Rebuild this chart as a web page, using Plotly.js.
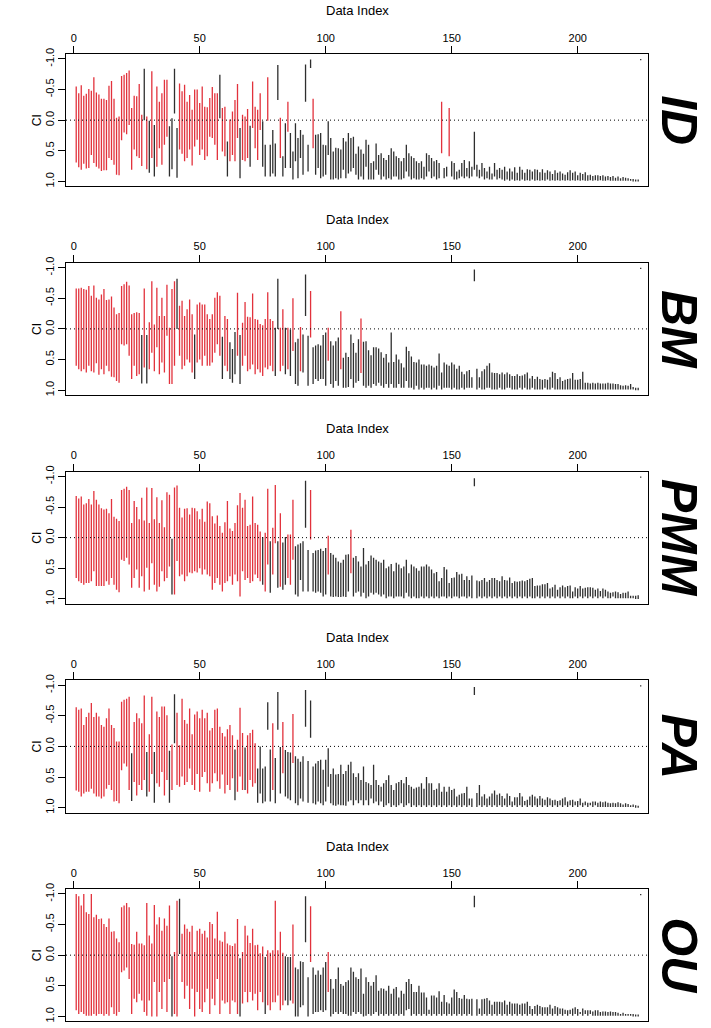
<!DOCTYPE html>
<html><head><meta charset="utf-8">
<script src="https://cdn.plot.ly/plotly-3.0.1.min.js"></script>
<style>html,body{margin:0;padding:0;background:#fff}#chart{width:711px;height:1028px}</style>
</head><body><div id="chart"></div>
<script>
const models = ["ID","BM","PMM","PA","OU"];
const xTicks = [0,50,100,150,200];
const yTicks = [-1,-0.5,0,0.5,1];
const yTickText = ["-1.0","-0.5","0.0","0.5","1.0"];
const K15 = "kkkkkkkkkkkkkkk";

const lo_ID = [
-0.55,-0.44,-0.57,-0.40,-0.43,-0.51,-0.48,-0.70,-0.45,-0.42,-0.35,-0.35,-0.33,-0.56,-0.64,
-0.35,-0.04,-0.06,-0.72,-0.74,-0.77,-0.81,-0.20,-0.40,-0.39,-0.59,-0.09,-0.84,-0.06,0.01,
-0.80,0.08,-0.55,-0.30,-0.44,-0.66,-0.66,0.10,-0.03,-0.84,0.13,-0.60,-0.47,-0.58,-0.30,
-0.41,-0.17,-0.50,-0.50,-0.28,-0.55,-0.22,-0.21,-0.36,-0.54,-0.44,-0.44,-0.74,-0.20,-0.22,
0.35,-0.01,-0.14,-0.33,-0.59,0.13,-0.09,-0.06,-0.18,0.09,-0.63,-0.22,-0.17,-0.44,0.02,
0.40,-0.70,0.40,0.16,0.38,-0.90,-0.04,0.59,0.05,-0.30,0.21,0.51,0.05,0.29,0.16,
0.24,-0.91,0.40,-0.99,-0.35,0.24,0.23,0.21,0.40,0.41,0.02,0.29,0.51,0.45,0.46,
0.48,0.29,0.35,0.21,0.29,0.27,0.55,0.43,0.48,0.55,0.32,0.40,0.70,0.67,0.38,
0.57,0.54,0.62,0.65,0.57,0.46,0.51,0.59,0.62,0.67,0.62,0.40,0.54,0.59,0.62,
0.67,0.70,0.67,0.76,0.54,0.57,0.62,0.67,0.65,0.70,-0.30,0.78,0.76,-0.20,0.67,
0.70,0.84,0.81,0.70,0.65,0.78,0.67,0.76,0.19,0.73,0.81,0.70,0.78,0.84,0.76,
0.87,0.70,0.81,0.78,0.81,0.76,0.84,0.79,0.84,0.77,0.86,0.76,0.81,0.86,0.80,
0.81,0.84,0.80,0.81,0.85,0.80,0.86,0.82,0.84,0.88,0.82,0.86,0.84,0.87,0.89,
0.85,0.82,0.86,0.84,0.90,0.86,0.88,0.85,0.90,0.89,0.91,0.90,0.90,0.91,0.90,
0.92,0.91,0.93,0.91,0.94,0.92,0.95,0.93,0.94,0.95,0.96,0.96,0.97,0.97,-1.0];
const hi_ID = [
0.69,0.77,0.81,0.71,0.79,0.78,0.57,0.70,0.76,0.79,0.83,0.82,0.82,0.62,0.65,
0.73,0.89,0.90,0.33,0.20,0.23,0.08,0.81,0.48,0.59,0.62,0.75,0.00,0.80,0.86,
0.62,0.92,0.76,0.46,0.73,0.40,0.27,0.92,0.80,-0.11,0.94,0.48,0.55,0.67,0.62,
0.48,0.74,0.43,0.32,0.57,0.48,0.65,0.59,0.27,0.29,0.40,0.65,-0.03,0.51,0.59,
0.92,0.67,0.57,0.67,0.29,0.95,0.65,0.67,0.62,0.76,0.13,0.46,0.65,0.16,0.76,
0.92,0.01,0.92,0.87,0.92,-0.33,0.62,0.92,0.78,0.19,0.78,0.97,0.67,0.95,0.62,
0.89,-0.30,0.84,-0.85,0.46,0.89,0.78,0.95,0.92,0.89,0.57,0.97,0.97,0.95,0.97,
0.95,0.81,0.95,0.87,0.84,0.78,0.89,0.97,0.92,0.97,0.76,0.97,0.97,0.97,0.81,
0.89,0.97,0.92,0.97,0.95,0.97,0.92,0.92,0.97,0.97,0.95,0.84,0.92,0.97,0.95,
0.97,0.97,0.95,0.97,0.92,0.84,0.95,0.92,0.97,0.95,0.54,0.95,0.92,0.59,0.92,
0.97,0.97,0.95,0.92,0.95,0.92,0.95,0.92,0.81,0.92,0.95,0.92,0.97,0.95,0.97,
0.97,0.92,0.97,0.95,0.97,0.99,0.97,0.99,0.97,0.99,0.98,0.99,0.97,0.99,0.98,
0.99,0.97,0.99,0.98,0.99,0.98,0.99,0.97,0.99,0.98,0.99,0.98,0.99,0.98,0.99,
0.98,0.99,0.98,0.99,0.98,0.99,0.98,0.99,0.99,0.98,0.99,0.98,0.99,0.98,0.99,
0.99,0.98,0.99,0.99,0.99,0.99,0.99,0.99,0.99,0.99,0.99,1.0,1.0,1.0,-0.98];
const col_ID = ["rrrrrrrrrrrrrrr","rrrrrrrrrrrrkrk","rkrrrrrkkkkrrrr","rrrrrrrrrrrrkrr",
"krrrrkrrrkrrrrk","krkkkkrkkrkkkkk","kkkkrkkkkkkkkkk",K15,K15,"kkkkkkkkkkrkkrk",K15,K15,K15,K15,K15].join("");

const lo_BM = [
-0.66,-0.66,-0.67,-0.65,-0.64,-0.70,-0.54,-0.71,-0.51,-0.48,-0.56,-0.65,-0.47,-0.48,-0.53,
-0.35,-0.24,-0.26,-0.70,-0.73,-0.77,-0.71,-0.24,-0.26,-0.27,-0.26,0.10,-0.66,0.10,-0.11,
-0.78,-0.07,-0.67,-0.21,-0.51,-0.21,-0.72,-0.02,-0.65,-0.78,-0.82,-0.38,-0.46,-0.21,-0.32,
-0.48,-0.24,0.09,-0.40,-0.43,-0.40,-0.40,-0.24,-0.16,-0.24,-0.51,-0.60,-0.54,0.13,-0.21,
-0.16,0.22,0.33,0.05,-0.59,0.10,-0.10,-0.44,-0.20,-0.19,-0.58,-0.16,-0.15,-0.08,-0.06,
-0.16,-0.60,-0.16,-0.13,-0.02,-0.82,-0.02,-0.32,-0.02,-0.02,0.01,-0.50,0.22,0.16,-0.03,
0.09,-0.89,0.11,-0.62,0.30,0.27,0.25,0.27,0.10,0.06,-0.02,0.20,0.27,0.20,0.14,
-0.29,0.47,0.39,0.46,0.09,0.23,0.39,0.17,-0.17,0.21,0.20,0.35,0.43,0.30,0.30,
0.32,0.38,0.47,0.41,0.55,0.06,0.54,0.42,0.50,0.56,0.63,0.29,0.36,0.45,0.54,
0.55,0.50,0.58,0.58,0.60,0.58,0.60,0.63,0.60,0.40,0.71,0.55,0.58,0.60,0.55,
0.58,0.65,0.60,0.70,0.74,0.69,0.67,0.79,-0.97,0.65,0.79,0.69,0.66,0.60,0.56,
0.71,0.72,0.72,0.74,0.71,0.74,0.71,0.74,0.77,0.77,0.74,0.77,0.76,0.74,0.71,
0.81,0.77,0.82,0.78,0.82,0.83,0.82,0.83,0.79,0.70,0.72,0.82,0.79,0.85,0.83,
0.82,0.81,0.72,0.83,0.83,0.82,0.70,0.88,0.88,0.89,0.88,0.89,0.88,0.89,0.89,
0.89,0.88,0.89,0.89,0.90,0.90,0.92,0.93,0.92,0.93,0.90,0.95,0.96,0.96,-1.0];
const hi_BM = [
0.60,0.66,0.69,0.66,0.71,0.60,0.69,0.71,0.56,0.75,0.66,0.74,0.60,0.69,0.78,
0.79,0.85,0.88,0.25,0.27,0.25,0.44,0.82,0.60,0.77,0.74,0.89,0.63,0.89,0.66,
0.39,0.69,0.30,0.74,0.55,0.71,0.11,0.90,0.90,0.60,0.00,0.44,0.66,0.60,0.50,
0.55,0.71,0.82,0.55,0.50,0.60,0.44,0.60,0.60,0.55,0.39,0.25,0.44,0.82,0.60,
0.69,0.82,0.88,0.74,0.44,0.90,0.60,0.44,0.69,0.66,0.58,0.74,0.66,0.71,0.77,
0.63,0.66,0.60,0.69,0.77,0.00,0.69,0.60,0.74,0.66,0.77,0.36,0.90,0.93,0.69,
0.71,-0.21,0.93,0.14,0.90,0.82,0.85,0.82,0.82,0.93,0.52,0.90,0.96,0.85,0.93,
0.66,0.96,0.96,0.95,0.82,0.96,0.88,0.85,0.72,0.93,0.96,0.93,0.96,0.90,0.93,
0.88,0.93,0.96,0.90,0.96,0.90,0.96,0.96,0.90,0.96,0.96,0.85,0.96,0.96,0.99,
0.93,0.99,0.96,0.99,0.96,0.96,0.99,0.96,0.99,0.93,0.99,0.96,0.96,0.96,0.99,
0.96,0.99,0.99,0.96,0.99,0.96,0.96,0.96,-0.78,0.99,0.96,0.99,0.99,0.96,0.96,
0.99,0.99,0.99,0.96,0.99,0.99,0.96,0.96,0.99,0.99,0.99,0.96,0.99,0.96,0.99,
0.99,0.96,0.99,0.99,0.99,0.99,0.96,0.99,0.99,0.96,0.99,0.99,0.99,0.99,0.99,
0.99,0.99,0.99,0.99,0.99,0.99,0.99,0.99,0.99,0.99,0.99,0.99,0.99,0.99,0.99,
0.99,0.99,0.99,0.99,0.99,0.99,0.99,0.99,0.99,0.99,0.99,0.99,1.0,1.0,-0.98];
const col_BM = ["rrrrrrrrrrrrrrr","rrrrrrrrrrrkrkr","rrrrrrrrrrkrrrr","rrkrrrrrrrrrrkr",
"rkkkrkrrrrrrrrr","rrrrkkrrkrkrkkr","kkkrkkkkkkrkkkk","rkkkkkkkrkkkkkk",K15,K15,K15,K15,K15,K15,K15].join("");

const lo_PMM = [
-0.68,-0.64,-0.67,-0.54,-0.56,-0.63,-0.54,-0.76,-0.62,-0.54,-0.48,-0.46,-0.47,-0.40,-0.63,
-0.34,-0.31,-0.27,-0.78,-0.80,-0.83,-0.78,-0.24,-0.60,-0.50,-0.30,-0.65,-0.28,-0.82,-0.24,
-0.81,-0.30,-0.66,-0.24,-0.61,-0.17,-0.74,-0.70,0.02,-0.82,-0.85,-0.49,-0.33,-0.47,-0.48,
-0.38,-0.49,-0.48,-0.43,-0.30,-0.47,-0.26,-0.59,-0.56,-0.35,-0.23,-0.36,-0.19,-0.08,-0.25,
-0.60,-0.15,-0.11,-0.24,-0.53,-0.73,-0.49,-0.62,-0.19,-0.21,-0.67,-0.24,-0.21,-0.10,-0.01,
-0.08,-0.80,0.06,-0.16,-0.86,0.06,-0.40,0.08,-0.01,-0.05,-0.05,-0.62,0.14,0.11,0.09,
0.06,-0.93,0.20,-0.78,0.25,0.21,0.20,0.18,0.22,0.17,-0.03,0.25,0.28,0.33,0.39,
0.41,0.36,0.28,0.27,-0.13,0.33,0.30,0.39,0.47,0.17,0.44,0.38,0.29,0.33,0.36,
0.39,0.41,0.36,0.50,0.47,0.43,0.55,0.41,0.44,0.50,0.47,0.36,0.58,0.44,0.47,
0.50,0.54,0.47,0.47,0.44,0.47,0.52,0.58,0.56,0.71,0.66,0.48,0.52,0.74,0.66,
0.65,0.56,0.60,0.59,0.69,0.63,0.69,0.62,-0.97,0.70,0.71,0.69,0.66,0.72,0.69,
0.66,0.66,0.69,0.71,0.63,0.69,0.70,0.65,0.74,0.71,0.72,0.71,0.70,0.71,0.69,
0.67,0.66,0.79,0.78,0.78,0.76,0.76,0.74,0.83,0.81,0.77,0.85,0.81,0.78,0.81,
0.79,0.78,0.88,0.81,0.83,0.79,0.83,0.82,0.81,0.81,0.82,0.85,0.83,0.87,0.83,
0.85,0.88,0.90,0.89,0.88,0.89,0.92,0.90,0.90,0.88,0.95,0.95,0.95,0.94,-1.0];
const hi_PMM = [
0.66,0.71,0.74,0.77,0.74,0.74,0.71,0.55,0.79,0.79,0.79,0.79,0.71,0.77,0.66,
0.77,0.85,0.89,0.36,0.38,0.33,0.44,0.82,0.66,0.52,0.82,0.63,0.88,0.49,0.85,
0.42,0.77,0.88,0.80,0.55,0.71,0.66,0.47,0.93,0.93,0.38,0.63,0.60,0.71,0.63,
0.57,0.58,0.55,0.57,0.50,0.60,0.52,0.60,0.63,0.85,0.74,0.66,0.77,0.88,0.74,
0.71,0.63,0.77,0.60,0.71,0.96,0.55,0.69,0.66,0.74,0.71,0.60,0.66,0.71,0.77,
0.88,0.44,0.90,0.60,0.09,0.82,0.80,0.85,0.77,0.66,0.77,0.36,0.93,0.96,0.69,
0.88,-0.16,0.88,0.03,0.88,0.90,0.88,0.90,0.96,0.93,0.60,0.96,0.97,0.96,0.97,
0.97,0.96,0.97,0.88,0.58,0.96,0.90,0.88,0.96,0.90,0.99,0.96,0.90,0.93,0.90,
0.93,0.96,0.93,0.99,0.96,0.96,0.99,0.96,0.96,0.96,0.99,0.90,0.96,0.99,0.96,
0.99,0.99,0.96,0.99,0.96,0.99,0.96,0.99,0.96,0.99,0.96,0.96,0.99,0.96,0.99,
0.96,0.96,0.99,0.96,0.96,0.99,0.96,0.99,-0.84,0.99,0.96,0.99,0.96,0.99,0.96,
0.99,0.96,0.99,0.96,0.99,0.96,0.99,0.96,0.99,0.96,0.99,0.96,0.99,0.96,0.99,
0.96,0.99,0.99,0.96,0.99,0.96,0.99,0.96,0.99,0.96,0.99,0.96,0.99,0.96,0.99,
0.96,0.99,0.99,0.96,0.99,0.96,0.99,0.96,0.99,0.96,0.99,0.96,0.99,0.96,0.99,
0.96,0.99,0.99,0.96,0.99,0.99,0.99,0.99,0.99,0.99,0.99,0.99,1.0,1.0,-0.98];
const col_PMM = ["rrrrrrrrrrrrrrr","rrrrrrrrrrrrrrr","rrrrrrrrkrrrrrr","rrrrrrrrrrrrrrr",
"rrrrrrrrrrrrrrk","rrkrrkrkkrrrkkk","kkkrkkkkkkrkkkk","kkkkrkkkkkkkkkk",K15,K15,K15,K15,K15,K15,K15].join("");

const lo_PA = [
-0.64,-0.60,-0.62,-0.35,-0.48,-0.55,-0.71,-0.48,-0.55,-0.49,-0.35,-0.32,-0.46,-0.62,-0.35,
-0.30,-0.08,-0.08,-0.73,-0.76,-0.78,-0.81,0.11,-0.40,-0.54,-0.46,-0.38,-0.83,0.09,-0.20,
-0.81,0.09,-0.57,-0.48,-0.65,-0.65,-0.51,0.07,-0.03,-0.85,-0.55,-0.02,-0.78,-0.43,-0.37,
-0.62,-0.20,-0.52,-0.57,-0.46,-0.60,-0.46,-0.55,-0.26,-0.30,-0.60,-0.62,-0.32,-0.22,-0.16,
-0.28,-0.35,-0.18,0.05,-0.11,-0.63,-0.22,0.02,-0.18,-0.22,-0.27,-0.05,0.36,0.00,0.36,
0.33,-0.72,0.05,-0.38,0.19,-0.89,0.01,-0.40,0.06,0.09,0.10,-0.53,0.16,0.20,0.25,
0.16,-0.92,0.24,-0.75,0.33,0.28,0.24,0.22,0.38,0.22,0.03,0.45,0.36,0.46,0.45,
0.30,0.45,0.40,0.30,0.25,0.44,0.50,0.44,0.55,0.33,0.58,0.60,0.63,0.30,0.55,
0.63,0.66,0.60,0.55,0.47,0.63,0.71,0.60,0.58,0.55,0.60,0.50,0.63,0.66,0.69,
0.67,0.66,0.60,0.69,0.50,0.60,0.60,0.71,0.69,0.60,0.74,0.66,0.74,0.66,0.71,
0.69,0.82,0.79,0.77,0.76,0.66,0.85,0.85,-0.97,0.76,0.63,0.82,0.78,0.85,0.82,
0.77,0.72,0.79,0.77,0.81,0.85,0.77,0.81,0.90,0.83,0.83,0.76,0.82,0.89,0.87,
0.82,0.79,0.82,0.85,0.81,0.85,0.87,0.83,0.85,0.88,0.87,0.89,0.88,0.85,0.83,
0.90,0.88,0.87,0.90,0.89,0.85,0.92,0.90,0.92,0.92,0.90,0.90,0.92,0.90,0.91,
0.90,0.92,0.93,0.92,0.93,0.91,0.93,0.95,0.93,0.94,0.96,0.95,0.96,0.97,-1.0];
const hi_PA = [
0.72,0.74,0.82,0.77,0.74,0.74,0.69,0.77,0.82,0.82,0.85,0.82,0.69,0.63,0.71,
0.90,0.89,0.93,0.39,0.28,0.33,0.71,0.89,0.58,0.80,0.63,0.71,0.55,0.82,0.74,
0.45,0.92,0.60,0.66,0.42,0.80,0.55,0.92,0.71,-0.05,0.63,0.66,0.49,0.63,0.58,
0.36,0.63,0.71,0.45,0.74,0.50,0.42,0.60,0.74,0.60,0.44,0.57,0.69,0.46,0.77,
0.63,0.71,0.52,0.88,0.74,0.49,0.71,0.71,0.77,0.55,0.66,0.60,0.92,0.77,0.93,
0.90,-0.27,0.90,0.71,0.93,-0.27,0.77,0.44,0.82,0.85,0.88,0.27,0.93,0.96,0.85,
0.90,-0.32,0.92,-0.14,0.93,0.95,0.90,0.93,0.96,0.90,0.66,0.93,0.96,0.97,0.95,
0.96,0.96,0.97,0.90,0.88,0.96,0.88,0.93,0.88,0.96,0.88,0.96,0.85,0.93,0.90,
0.96,0.90,0.99,0.96,0.93,0.99,0.96,0.99,0.96,0.93,0.99,0.96,0.93,0.99,0.96,
0.99,0.96,0.99,0.96,0.99,0.96,0.99,0.96,0.99,0.96,0.99,0.96,0.99,0.96,0.99,
0.96,0.99,0.96,0.99,0.96,0.99,0.96,0.99,-0.84,0.99,0.96,0.99,0.96,0.99,0.96,
0.99,0.96,0.99,0.96,0.99,0.96,0.99,0.96,0.99,0.96,0.99,0.96,0.99,0.96,0.99,
0.96,0.99,0.96,0.99,0.96,0.99,0.96,0.99,0.96,0.99,0.96,0.99,0.96,0.99,0.96,
0.99,0.96,0.99,0.96,0.99,0.96,0.99,0.96,0.99,0.96,0.99,0.96,0.99,0.99,0.99,
0.99,0.99,0.99,0.99,0.99,0.99,0.99,0.99,0.99,0.99,0.99,0.99,1.0,1.0,-0.98];
const col_PA = ["rrrrrrrrrrrrrrr","rrrrrrrkrrrrrkr","rkrrrrrkrkrrrrr","rrrrrrrrrrrrrrr",
"rrrkrrrkrrrrkkk","kkkrkkkrkkkrkkk",K15,K15,K15,K15,K15,K15,K15,K15,K15].join("");

const lo_OU = [
-1.0,-0.96,-0.81,-1.0,-0.70,-0.67,-1.0,-0.62,-0.66,-0.59,-0.60,-0.51,-0.46,-0.60,-0.38,
-0.39,-0.27,-0.21,-0.78,-0.81,-0.85,-0.78,-0.18,-0.17,-0.38,-0.19,-0.19,-0.16,-0.85,-0.32,
-0.19,-0.82,-0.50,-0.62,-0.40,-0.60,-0.48,-0.81,0.02,-0.05,-0.89,-0.92,-0.35,-0.50,-0.43,
-0.38,-0.48,-0.05,-0.40,-0.43,-0.35,-0.40,-0.29,-0.54,-0.51,-0.27,-0.71,-0.24,-0.22,-0.38,
-0.19,-0.16,-0.15,-0.19,-0.59,0.05,-0.05,-0.48,-0.32,-0.20,-0.43,-0.16,-0.17,-0.03,-0.14,
0.03,-0.08,-0.04,-0.08,-0.89,-0.08,-0.38,-0.04,0.02,0.03,0.03,-0.50,0.20,0.23,0.10,
0.11,-0.96,0.36,-0.80,0.20,0.32,0.25,0.32,0.20,0.11,-0.05,0.39,0.55,0.39,0.20,
0.47,0.50,0.44,0.41,0.20,0.27,0.36,0.39,0.22,0.63,0.36,0.44,0.50,0.44,0.33,
0.58,0.54,0.55,0.58,0.50,0.63,0.55,0.52,0.69,0.58,0.63,0.44,0.39,0.47,0.60,
0.60,0.50,0.61,0.61,0.69,0.89,0.66,0.66,0.69,0.59,0.76,0.65,0.77,0.79,0.69,
0.56,0.60,0.70,0.71,0.65,0.71,0.72,0.71,-0.97,0.72,0.87,0.72,0.71,0.70,0.74,
0.81,0.76,0.76,0.76,0.77,0.74,0.81,0.76,0.79,0.79,0.79,0.81,0.79,0.79,0.76,
0.83,0.88,0.83,0.81,0.83,0.85,0.85,0.85,0.81,0.87,0.83,0.85,0.87,0.87,0.89,
0.90,0.89,0.87,0.85,0.88,0.93,0.87,0.90,0.90,0.90,0.92,0.90,0.90,0.93,0.92,
0.92,0.93,0.92,0.93,0.93,0.94,0.96,0.94,0.96,0.96,0.96,0.96,0.97,0.97,-1.0];
const hi_OU = [
0.90,0.96,0.93,0.96,0.99,0.99,0.99,0.96,0.99,0.96,0.96,0.99,0.96,0.99,0.85,
0.96,0.99,0.93,0.28,0.25,0.20,0.39,0.96,0.71,0.77,0.63,0.74,0.93,0.99,0.74,
1.0,0.44,1.0,0.60,0.88,0.44,0.93,0.39,1.0,0.96,1.0,-0.02,0.44,0.71,0.50,
0.88,0.55,1.0,0.60,0.88,0.93,0.77,0.55,0.96,0.71,0.82,0.39,0.96,0.74,0.79,
0.77,0.96,0.74,0.77,0.96,1.0,0.79,0.60,0.77,0.60,0.74,0.63,0.90,0.60,0.77,
0.96,0.82,0.90,0.77,0.77,0.66,0.90,0.82,0.74,0.82,0.74,0.79,1.0,1.0,0.85,
0.82,-0.21,1.0,0.11,0.96,0.93,0.93,0.90,0.93,0.90,0.60,1.0,0.96,0.93,0.96,
0.93,0.96,0.96,0.99,0.99,0.93,0.96,0.93,0.96,1.0,0.99,0.96,0.99,0.96,0.93,
0.99,0.96,0.99,0.96,0.99,0.96,0.99,0.96,0.99,0.96,0.99,0.90,0.88,0.99,0.96,
0.99,0.96,0.99,0.96,0.99,0.96,0.99,0.96,0.99,0.96,0.99,0.96,0.99,0.96,0.99,
0.96,0.99,0.96,0.99,0.96,0.99,0.96,0.99,-0.78,0.99,0.96,0.99,0.96,0.99,0.96,
0.99,0.96,0.99,0.96,0.99,0.96,0.99,0.96,0.99,0.96,0.99,0.96,0.99,0.96,0.99,
0.96,0.99,0.96,0.99,0.96,0.99,0.96,0.99,0.96,0.99,0.96,0.99,0.96,0.99,0.96,
0.99,0.96,0.99,0.96,0.99,0.96,0.99,0.96,0.99,0.96,0.99,0.99,0.99,0.99,0.99,
0.99,0.99,0.99,0.99,0.99,0.99,0.99,0.99,0.99,0.99,0.99,1.0,1.0,1.0,-0.98];
const col_OU = ["rrrrrrrrrrrrrrr","rrrrrrrrrrrrrrr","rrrrrrrrkrrkrrr","rrrrrrrrrrrrrrr",
"rrrrrkrrrrrrrrr","krrrrrrrkkkrkkk","kkkrkkkkkkrkkkk",K15,K15,K15,K15,K15,K15,K15,K15].join("");

const dataIndex = Array.from({length: lo_ID.length}, (_, j) => j + 1);
const panels = [
  {name:"ID", lo:lo_ID, hi:hi_ID, col:col_ID},
  {name:"BM", lo:lo_BM, hi:hi_BM, col:col_BM},
  {name:"PMM", lo:lo_PMM, hi:hi_PMM, col:col_PMM},
  {name:"PA", lo:lo_PA, hi:hi_PA, col:col_PA},
  {name:"OU", lo:lo_OU, hi:hi_OU, col:col_OU}
];

const W=711, H=1028, L=66, R=648, T0=54, STEP=208.75, BH=132.3;
const X0PX=73.7, PXU=2.52;
const xRange=[(L-X0PX)/PXU,(R-X0PX)/PXU];
const RED='rgb(226,50,60)', BLK='#2e2e2e';
const traces=[];
const layout={width:W,height:H,margin:{l:0,r:0,t:0,b:0},paper_bgcolor:'#fff',plot_bgcolor:'#fff',
  showlegend:false,font:{family:'Liberation Sans, Arial, Helvetica, sans-serif',size:11,color:'#000'},
  shapes:[],annotations:[]};

panels.forEach((p,k)=>{
  const sfx = k===0 ? '' : String(k+1);
  const top = T0 + STEP*k, bot = top + BH;
  const xr=[],yr=[],xk=[],yk=[];
  for (let j=0;j<p.lo.length;j++){
    const i=dataIndex[j];
    if (p.col[j]==='r'){ xr.push(i,i,null); yr.push(p.lo[j],p.hi[j],null); }
    else { xk.push(i,i,null); yk.push(p.lo[j],p.hi[j],null); }
  }
  traces.push({x:xk,y:yk,xaxis:'x'+sfx,yaxis:'y'+sfx,mode:'lines',line:{color:BLK,width:1.3},hoverinfo:'skip',connectgaps:false});
  traces.push({x:xr,y:yr,xaxis:'x'+sfx,yaxis:'y'+sfx,mode:'lines',line:{color:RED,width:1.3},hoverinfo:'skip',connectgaps:false});
  layout['xaxis'+sfx]={domain:[L/W,R/W],anchor:'y'+sfx,side:'top',range:xRange,
    tickmode:'array',tickvals:xTicks,ticktext:xTicks.map(String),ticks:'outside',ticklen:7,tickwidth:1,tickcolor:'#000',
    showline:true,mirror:true,linecolor:'#000',linewidth:1,showgrid:false,zeroline:false,tickfont:{size:11}};
  layout['yaxis'+sfx]={domain:[1-bot/H,1-top/H],anchor:'x'+sfx,range:[1.08,-1.08],
    tickmode:'array',tickvals:yTicks,ticktext:yTickText,tickangle:-90,ticks:'outside',ticklen:7,tickwidth:1,tickcolor:'#000',
    showline:true,mirror:true,linecolor:'#000',linewidth:1,showgrid:false,zeroline:false,tickfont:{size:11}};
  layout.shapes.push({type:'line',xref:'x'+sfx+' domain',x0:0,x1:1,yref:'y'+sfx,y0:0,y1:0,
    line:{color:'#000',width:1,dash:'1px,3px'}});
  layout.annotations.push({xref:'paper',yref:'paper',x:(L+R)/2/W,y:1-(top-43)/H,text:'Data Index',
    showarrow:false,xanchor:'center',yanchor:'middle',font:{size:13}});
  layout.annotations.push({xref:'paper',yref:'paper',x:(L-29)/W,y:1-(top+BH/2)/H,text:'CI',textangle:-90,
    showarrow:false,xanchor:'center',yanchor:'middle',font:{size:12}});
  layout.annotations.push({xref:'paper',yref:'paper',x:679/W,y:1-(top+BH/2)/H,text:'<b><i>'+p.name+'</i></b>',
    textangle:90,showarrow:false,xanchor:'center',yanchor:'middle',font:{size:50,color:'#000'}});
});

Plotly.newPlot('chart',traces,layout,{staticPlot:true,displayModeBar:false});
</script>
</body></html>
